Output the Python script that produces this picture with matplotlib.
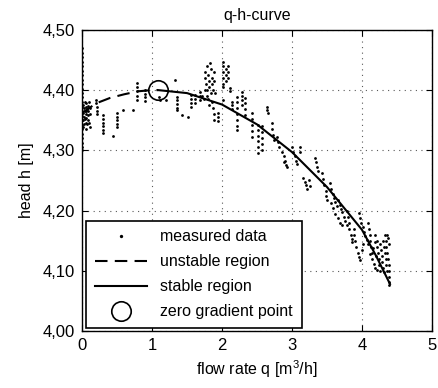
import numpy as np
import matplotlib
matplotlib.use("Agg")
import matplotlib.pyplot as plt
from matplotlib.ticker import FuncFormatter

plt.rcParams["font.family"] = ["Liberation Sans", "DejaVu Sans"]
plt.rcParams["mathtext.fontset"] = "custom"
plt.rcParams["mathtext.rm"] = "Liberation Sans"

# measured points (q [m3/h], h [m])
meas_start = [
    (0.00, 4.470), (0.00, 4.462), (0.00, 4.455), (0.00, 4.447), (0.00, 4.440), (0.00, 4.432),
    (0.00, 4.425), (0.00, 4.417), (0.00, 4.410), (0.00, 4.402), (0.00, 4.395), (0.00, 4.388),
    (0.00, 4.380), (0.00, 4.372), (0.00, 4.365), (0.00, 4.357), (0.00, 4.350), (0.00, 4.342),
    (0.00, 4.335), (0.00, 4.327), (0.00, 4.320), (0.00, 4.312), (0.00, 4.305), (0.00, 4.300),
    (0.02, 4.375), (0.02, 4.362), (0.02, 4.350), (0.02, 4.338), (0.03, 4.370), (0.03, 4.356),
    (0.03, 4.344), (0.04, 4.380), (0.04, 4.365), (0.04, 4.352), (0.05, 4.372), (0.05, 4.360),
    (0.05, 4.346), (0.05, 4.335), (0.06, 4.378), (0.06, 4.366), (0.06, 4.354), (0.07, 4.368),
    (0.07, 4.343), (0.08, 4.374), (0.08, 4.358), (0.09, 4.365), (0.09, 4.350), (0.10, 4.380),
    (0.10, 4.345), (0.11, 4.360), (0.12, 4.370), (0.12, 4.338),
]
meas_low = [
    (0.20, 4.384), (0.20, 4.378), (0.21, 4.372), (0.21, 4.366), (0.21, 4.360),
    (0.30, 4.358), (0.30, 4.352), (0.30, 4.346), (0.30, 4.340), (0.30, 4.334), (0.30, 4.328),
    (0.44, 4.324),
    (0.50, 4.362), (0.50, 4.356), (0.50, 4.350), (0.50, 4.344), (0.50, 4.338),
    (0.59, 4.367), (0.73, 4.367),
    (0.78, 4.412), (0.78, 4.405), (0.78, 4.398), (0.78, 4.390), (0.78, 4.383),
    (0.90, 4.400), (0.90, 4.394), (0.90, 4.388), (0.90, 4.382),
    (1.10, 4.388), (1.11, 4.384), (1.20, 4.384), (1.33, 4.417),
    (1.35, 4.389), (1.35, 4.383), (1.35, 4.377), (1.35, 4.371), (1.36, 4.367),
    (1.43, 4.359), (1.52, 4.356),
]
meas_mid = [
    (1.55, 4.392), (1.55, 4.386), (1.55, 4.379), (1.55, 4.372),
    (1.61, 4.392), (1.61, 4.385), (1.61, 4.378),
    (1.69, 4.397), (1.69, 4.390), (1.69, 4.384),
    (1.72, 4.390), (1.74, 4.385), (1.75, 4.430), (1.76, 4.420), (1.76, 4.400), (1.77, 4.410),
    (1.78, 4.400), (1.78, 4.390), (1.79, 4.440), (1.80, 4.425), (1.80, 4.385), (1.81, 4.415),
    (1.82, 4.405), (1.82, 4.375), (1.83, 4.445), (1.84, 4.435), (1.84, 4.395), (1.85, 4.420),
    (1.86, 4.410), (1.86, 4.380), (1.87, 4.400), (1.87, 4.370), (1.88, 4.430), (1.88, 4.360),
    (1.89, 4.415), (1.89, 4.350), (1.90, 4.395),
    (1.94, 4.362), (1.94, 4.355), (1.94, 4.348),
    (2.01, 4.447), (2.01, 4.440), (2.01, 4.430), (2.01, 4.420), (2.01, 4.410), (2.01, 4.405),
    (2.01, 4.384),
    (2.05, 4.435), (2.05, 4.425), (2.05, 4.415),
    (2.09, 4.440), (2.09, 4.430), (2.09, 4.420),
    (2.11, 4.403), (2.11, 4.398),
    (2.14, 4.380), (2.14, 4.375), (2.14, 4.369),
    (2.21, 4.389), (2.21, 4.380), (2.21, 4.370), (2.21, 4.360), (2.21, 4.350), (2.21, 4.340),
    (2.21, 4.334),
    (2.28, 4.397), (2.28, 4.390), (2.28, 4.383), (2.28, 4.375),
    (2.33, 4.387), (2.33, 4.378), (2.33, 4.368), (2.33, 4.358),
    (2.43, 4.362), (2.43, 4.352), (2.43, 4.342), (2.43, 4.332), (2.43, 4.322),
    (2.52, 4.342), (2.52, 4.333), (2.52, 4.324), (2.52, 4.315), (2.52, 4.305), (2.52, 4.296),
    (2.57, 4.340), (2.57, 4.330), (2.57, 4.320), (2.57, 4.310), (2.57, 4.300),
    (2.64, 4.372), (2.64, 4.367), (2.65, 4.362),
]
meas_fall = [
    (2.71, 4.345), (2.72, 4.335), (2.73, 4.325), (2.74, 4.317),
    (2.79, 4.322), (2.80, 4.313), (2.81, 4.305),
    (2.86, 4.297), (2.88, 4.290), (2.90, 4.283), (2.92, 4.276), (2.93, 4.272), (2.89, 4.280),
    (3.00, 4.305), (3.02, 4.298), (3.04, 4.290), (3.06, 4.282), (3.07, 4.277),
    (3.11, 4.305), (3.11, 4.298),
    (3.16, 4.254), (3.18, 4.248), (3.20, 4.242), (3.22, 4.236), (3.24, 4.250), (3.26, 4.240),
    (3.33, 4.288), (3.34, 4.280), (3.36, 4.272), (3.37, 4.266),
    (3.43, 4.262), (3.44, 4.252), (3.46, 4.242), (3.48, 4.232), (3.49, 4.224), (3.50, 4.218),
]
meas_high = [
    (3.54, 4.245), (3.56, 4.235), (3.58, 4.228), (3.60, 4.220), (3.62, 4.214), (3.64, 4.207),
    (3.66, 4.218), (3.68, 4.210),
    (3.55, 4.212), (3.58, 4.205), (3.62, 4.195), (3.66, 4.188), (3.69, 4.180), (3.72, 4.176),
    (3.70, 4.203), (3.72, 4.198), (3.74, 4.190), (3.76, 4.183), (3.78, 4.176),
    (3.79, 4.200), (3.80, 4.190), (3.81, 4.180), (3.82, 4.170), (3.84, 4.160), (3.85, 4.152),
    (3.86, 4.148),
    (3.88, 4.170), (3.89, 4.160), (3.90, 4.150), (3.92, 4.140), (3.94, 4.130), (3.96, 4.122),
    (3.97, 4.118),
    (3.95, 4.196), (3.97, 4.188), (3.99, 4.180), (4.01, 4.172), (4.03, 4.165), (4.05, 4.158),
    (4.07, 4.151), (4.00, 4.135), (4.02, 4.145),
    (4.08, 4.180), (4.10, 4.170), (4.11, 4.160), (4.12, 4.150), (4.13, 4.140), (4.14, 4.130),
    (4.15, 4.120), (4.17, 4.112), (4.19, 4.104), (4.21, 4.101),
    (4.09, 4.145), (4.12, 4.128), (4.16, 4.138), (4.18, 4.148), (4.20, 4.125),
    (4.19, 4.160), (4.21, 4.150), (4.22, 4.140), (4.23, 4.130), (4.24, 4.120), (4.25, 4.110),
    (4.26, 4.100),
    (4.26, 4.145), (4.27, 4.135), (4.28, 4.125), (4.29, 4.115), (4.30, 4.105), (4.31, 4.098),
    (4.30, 4.150), (4.32, 4.140), (4.33, 4.130), (4.34, 4.120), (4.35, 4.110), (4.36, 4.100),
    (4.33, 4.159), (4.34, 4.150), (4.35, 4.140), (4.36, 4.130), (4.37, 4.120), (4.38, 4.110),
    (4.38, 4.100), (4.39, 4.090), (4.39, 4.082), (4.39, 4.076),
    (4.37, 4.155), (4.38, 4.145), (4.36, 4.160),
]

# fitted curve
q_unstable = [0.0, 0.2, 0.4, 0.6, 0.8, 1.0, 1.086]
h_unstable = [4.362, 4.378, 4.387, 4.393, 4.398, 4.400, 4.400]
q_stable = [1.086, 1.5, 2.0, 2.5, 3.0, 3.5, 4.0, 4.2, 4.4]
h_stable = [4.400, 4.395, 4.376, 4.343, 4.297, 4.239, 4.168, 4.125, 4.078]
q_zero, h_zero = 1.086, 4.400

meas = np.array(meas_start + meas_low + meas_mid + meas_fall + meas_high)

fig = plt.figure(figsize=(4.39, 3.88), dpi=100)
ax = fig.add_axes([0.187, 0.147, 0.797, 0.776])

ax.plot(meas[:, 0], meas[:, 1], "o", color="k", ms=2.0, mew=0, label="measured data")
ax.plot(q_unstable, h_unstable, color="k", lw=1.5, dashes=(6, 3.5), label="unstable region")
ax.plot(q_stable, h_stable, color="k", lw=1.5, label="stable region")
ax.plot(q_zero, h_zero, "o", ms=14, mfc="none", mec="k", mew=1.2,
        label="zero gradient point")

ax.set_xlim(0, 5)
ax.set_ylim(4.0, 4.5)
ax.set_xticks([0, 1, 2, 3, 4, 5])
ax.set_yticks([4.0, 4.1, 4.2, 4.3, 4.4, 4.5])
ax.yaxis.set_major_formatter(FuncFormatter(lambda v, p: f"{v:.2f}".replace(".", ",")))
ax.tick_params(direction="in", top=True, right=True, length=4, labelsize=12, pad=5)
ax.grid(True, color="0.35", linestyle=(0, (1, 4)), linewidth=0.8)
for s in ax.spines.values():
    s.set_linewidth(1.0)

ax.set_xlabel("flow rate q [m$^3$/h]", fontsize=11.5, labelpad=4)
ax.set_ylabel("head h [m]", fontsize=11.5, labelpad=6)
ax.set_title("q-h-curve", fontsize=11.5, pad=7)

leg = ax.legend(loc="lower left", bbox_to_anchor=(0.011, 0.01), borderaxespad=0,
                fontsize=11.5, handlelength=3.3, handletextpad=0.8, labelspacing=0.62,
                borderpad=0.55, fancybox=False, framealpha=1, edgecolor="k")
leg.get_frame().set_linewidth(1.2)
for h in leg.legend_handles:
    if h.get_label() == "measured data":
        h.set_markersize(2.4)

fig.savefig("out.png", dpi=100)
